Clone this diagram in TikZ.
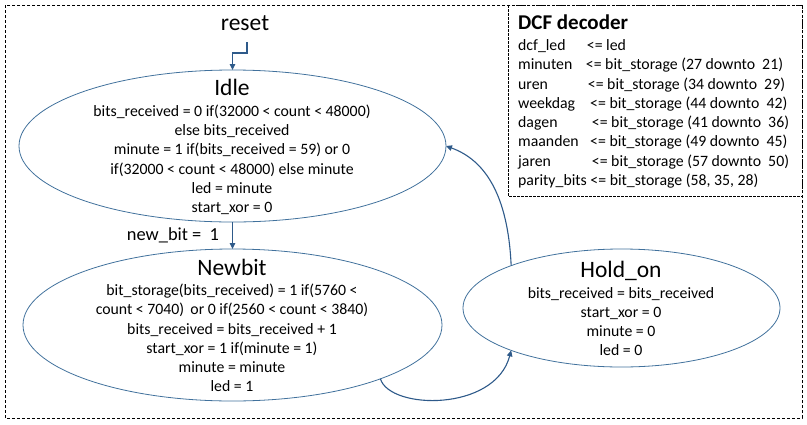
\documentclass[tikz,border=0pt]{standalone}
\usepackage{fontspec}
\setmainfont{Carlito}
\usetikzlibrary{arrows.meta,shapes.geometric}
\definecolor{stateline}{HTML}{41719C}
\definecolor{arrowline}{HTML}{2E5A8A}
\begin{document}
\begin{tikzpicture}[x=1pt,y=-1pt,
  state/.style={draw=stateline,line width=0.8pt,ellipse,inner sep=0pt,outer sep=0pt},
  title/.style={font=\fontsize{23.5}{28}\selectfont,inner sep=0pt,anchor=base},
  body/.style={font=\fontsize{15.8}{19}\selectfont,inner sep=0pt,anchor=base},
  dcf/.style={font=\fontsize{15.8}{19}\selectfont,inner sep=0pt,anchor=base west},
  trans/.style={draw=arrowline,line width=1.1pt,-{Triangle[length=6pt,width=5.5pt]}},
  frame/.style={draw=black,line width=0.7pt,dash pattern=on 3pt off 2pt}]
\useasboundingbox (0,0) rectangle (807,424);

% outer frame and decoder box
\draw[frame] (5,5) rectangle (802,418);
\draw[frame,dash pattern=on 2.5pt off 1.5pt] (508,5) rectangle (802,196);

% states
\node[state,minimum width=427pt,minimum height=152pt] (idle) at (232.5,146) {};
\node[state,minimum width=419pt,minimum height=152pt] (newbit) at (232.5,325) {};
\node[state,minimum width=317pt,minimum height=118pt] (hold) at (621.5,308) {};

% Idle
\node[title] (idle-t) at (232,95) {Idle};
\foreach \t [count=\i] in {
  bits\_received = 0 if(32000 < count < 48000),
  else bits\_received,
  minute = 1 if(bits\_received = 59) or 0,
  if(32000 < count < 48000) else minute,
  led = minute,
  start\_xor = 0}
  \node[body] (idle-\i) at (232,{116.5+19.2*(\i-1)}) {\t};

% Newbit
\node[title] (newbit-t) at (232,275) {Newbit};
\foreach \t [count=\i] in {
  bit\_storage(bits\_received) = 1 if(5760 <,
  count < 7040)\, or 0 if(2560 < count < 3840),
  bits\_received = bits\_received + 1,
  start\_xor = 1 if(minute = 1),
  minute = minute,
  led = 1}
  \node[body] (newbit-\i) at (232,{295.7+19.2*(\i-1)}) {\t};

% Hold_on
\node[title] (hold-t) at (621,277) {Hold\_on};
\foreach \t [count=\i] in {
  bits\_received = bits\_received,
  start\_xor = 0,
  minute = 0,
  led = 0}
  \node[body] (hold-\i) at (621,{298.3+19.2*(\i-1)}) {\t};

% reset entry
\node[title] (reset) at (245,30) {reset};
\coordinate (resetin) at (247,42);
\draw[trans] (resetin) -- ++(0,11) -| (idle.north);

% transitions
\draw[trans] (idle.south) -- (newbit.north);
\node[font=\fontsize{18.4}{22}\selectfont,inner sep=0pt,anchor=base] (newbit-lbl) at (173,240.7) {new\_bit =\ \ 1};
\draw[trans] (newbit.-20) .. controls (390,410) and (495,412) .. (hold.201.5);
\draw[trans] (hold.159) .. controls (508,195) and (485,160) .. (idle.east);

% decoder outputs
\node[font=\fontsize{21}{24}\selectfont\bfseries,inner sep=0pt,anchor=base west] (dcf-t) at (518,29.5) {DCF decoder};
\foreach \l/\xr/\r [count=\i] in {
  dcf\_led/586.7/{<= led},
  minuten/585.7/{<= bit\_storage (27 downto\ \ 21)},
  uren/587.7/{<= bit\_storage (34 downto\ \ 29)},
  weekdag/590/{<= bit\_storage (44 downto\ \ 42)},
  dagen/591.7/{<= bit\_storage (41 downto\ \ 36)},
  maanden/590/{<= bit\_storage (49 downto\ \ 45)},
  jaren/591.7/{<= bit\_storage (57 downto\ \ 50)}}
{
  \node[dcf] (dcf-l\i) at (518,{50.7+19.25*(\i-1)}) {\l};
  \node[dcf] (dcf-r\i) at (\xr,{50.7+19.25*(\i-1)}) {\r};
}
\node[dcf] (dcf-l8) at (518,185.45) {parity\_bits <= bit\_storage (58, 35, 28)};
\end{tikzpicture}
\end{document}
